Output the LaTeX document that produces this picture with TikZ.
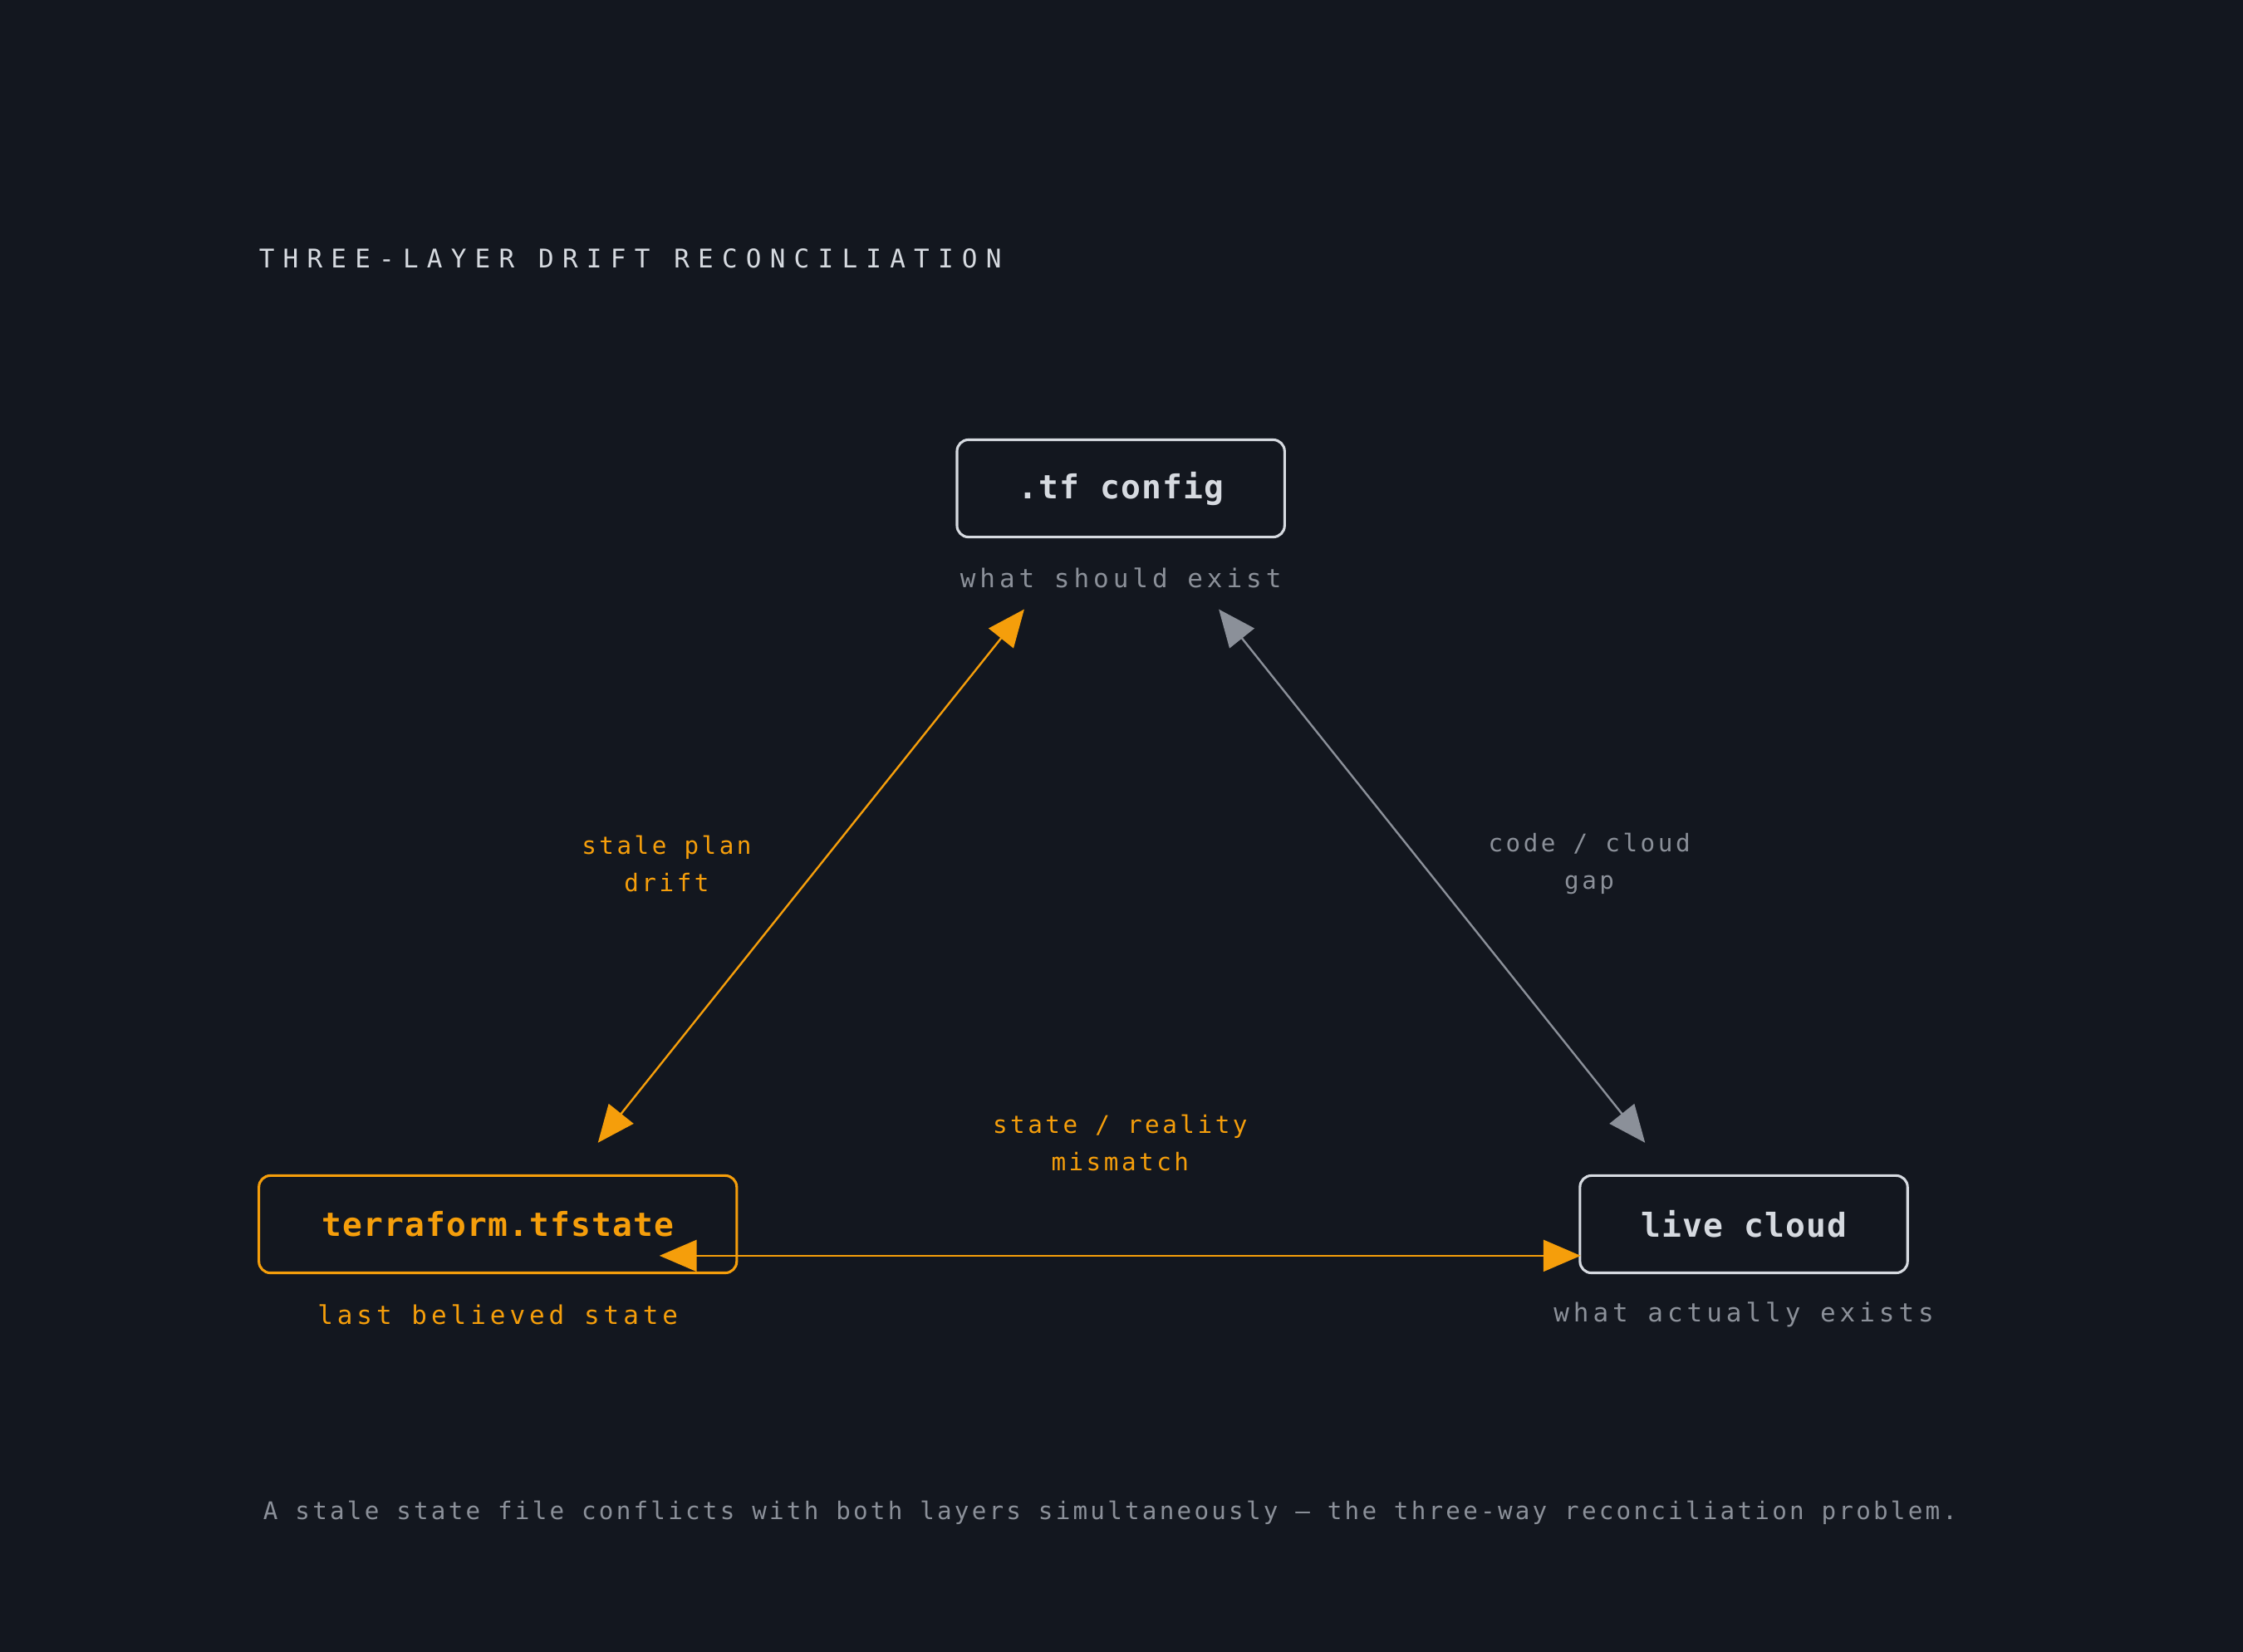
\documentclass[tikz,border=0pt]{standalone}
\usepackage{fontspec}
\setmonofont{DejaVu Sans Mono}
\usetikzlibrary{arrows.meta}
\definecolor{bg}{HTML}{13171F}
\definecolor{org}{HTML}{F59E0B}
\definecolor{gr}{HTML}{8B9099}
\definecolor{wh}{HTML}{D6DAE0}
\begin{document}
\begin{tikzpicture}[x=0.5pt,y=-0.5pt,
  box/.style={draw=wh,line width=0.9pt,rounded corners=4pt,minimum width=114.5pt,minimum height=34pt,inner sep=0pt,font=\ttfamily\bfseries\fontsize{11.5}{13}\selectfont\addfontfeature{LetterSpace=3},text=wh},
  sub/.style={font=\ttfamily\fontsize{9}{12}\selectfont\addfontfeature{LetterSpace=16},text=gr},
  lab/.style={font=\ttfamily\fontsize{8.5}{13}\selectfont\addfontfeature{LetterSpace=12},align=center},
  arr/.style={line width=0.7pt,{Triangle[length=13pt,width=11pt]}-{Triangle[length=13pt,width=11pt]}}]
\fill[bg] (0,0) rectangle (1568,1155);
\useasboundingbox (0,0) rectangle (1568,1155);
\node[anchor=west,text=wh,font=\ttfamily\fontsize{9}{11}\selectfont\addfontfeature{LetterSpace=33}] (title) at (174,181) {THREE-LAYER DRIFT RECONCILIATION};
\node[box] (tf) at (783.5,341.5) {.tf config};
\node[box,draw=org,text=org,minimum width=167pt] (st) at (348,856) {terraform.tfstate};
\node[box] (lc) at (1219,856) {live cloud};
\node[sub] (tfs) at (783.5,404) {what should exist};
\node[sub,text=org] (sts) at (348,919) {last believed state};
\node[sub] (lcs) at (1219,919) {what actually exists};
\coordinate (a1) at (418,799); \coordinate (a2) at (716,426);
\coordinate (b1) at (852,426); \coordinate (b2) at (1150,799);
\coordinate (c1) at (461,878); \coordinate (c2) at (1105,878);
\draw[arr,draw=org,fill=org] (a1) -- (a2);
\draw[arr,draw=gr,fill=gr] (b1) -- (b2);
\draw[arr,draw=org,fill=org] (c1) -- (c2);
\node[lab,text=org] (l1) at (466,604) {stale plan\\drift};
\node[lab,text=gr] (l2) at (1111,604) {code / cloud\\gap};
\node[lab,text=org] (l3) at (783,799) {state / reality\\mismatch};
\node[anchor=west,text=gr,font=\ttfamily\fontsize{8.5}{11}\selectfont\addfontfeature{LetterSpace=11}] (cap) at (177,1058) {A stale state file conflicts with both layers simultaneously — the three-way reconciliation problem.};
\end{tikzpicture}
\end{document}
